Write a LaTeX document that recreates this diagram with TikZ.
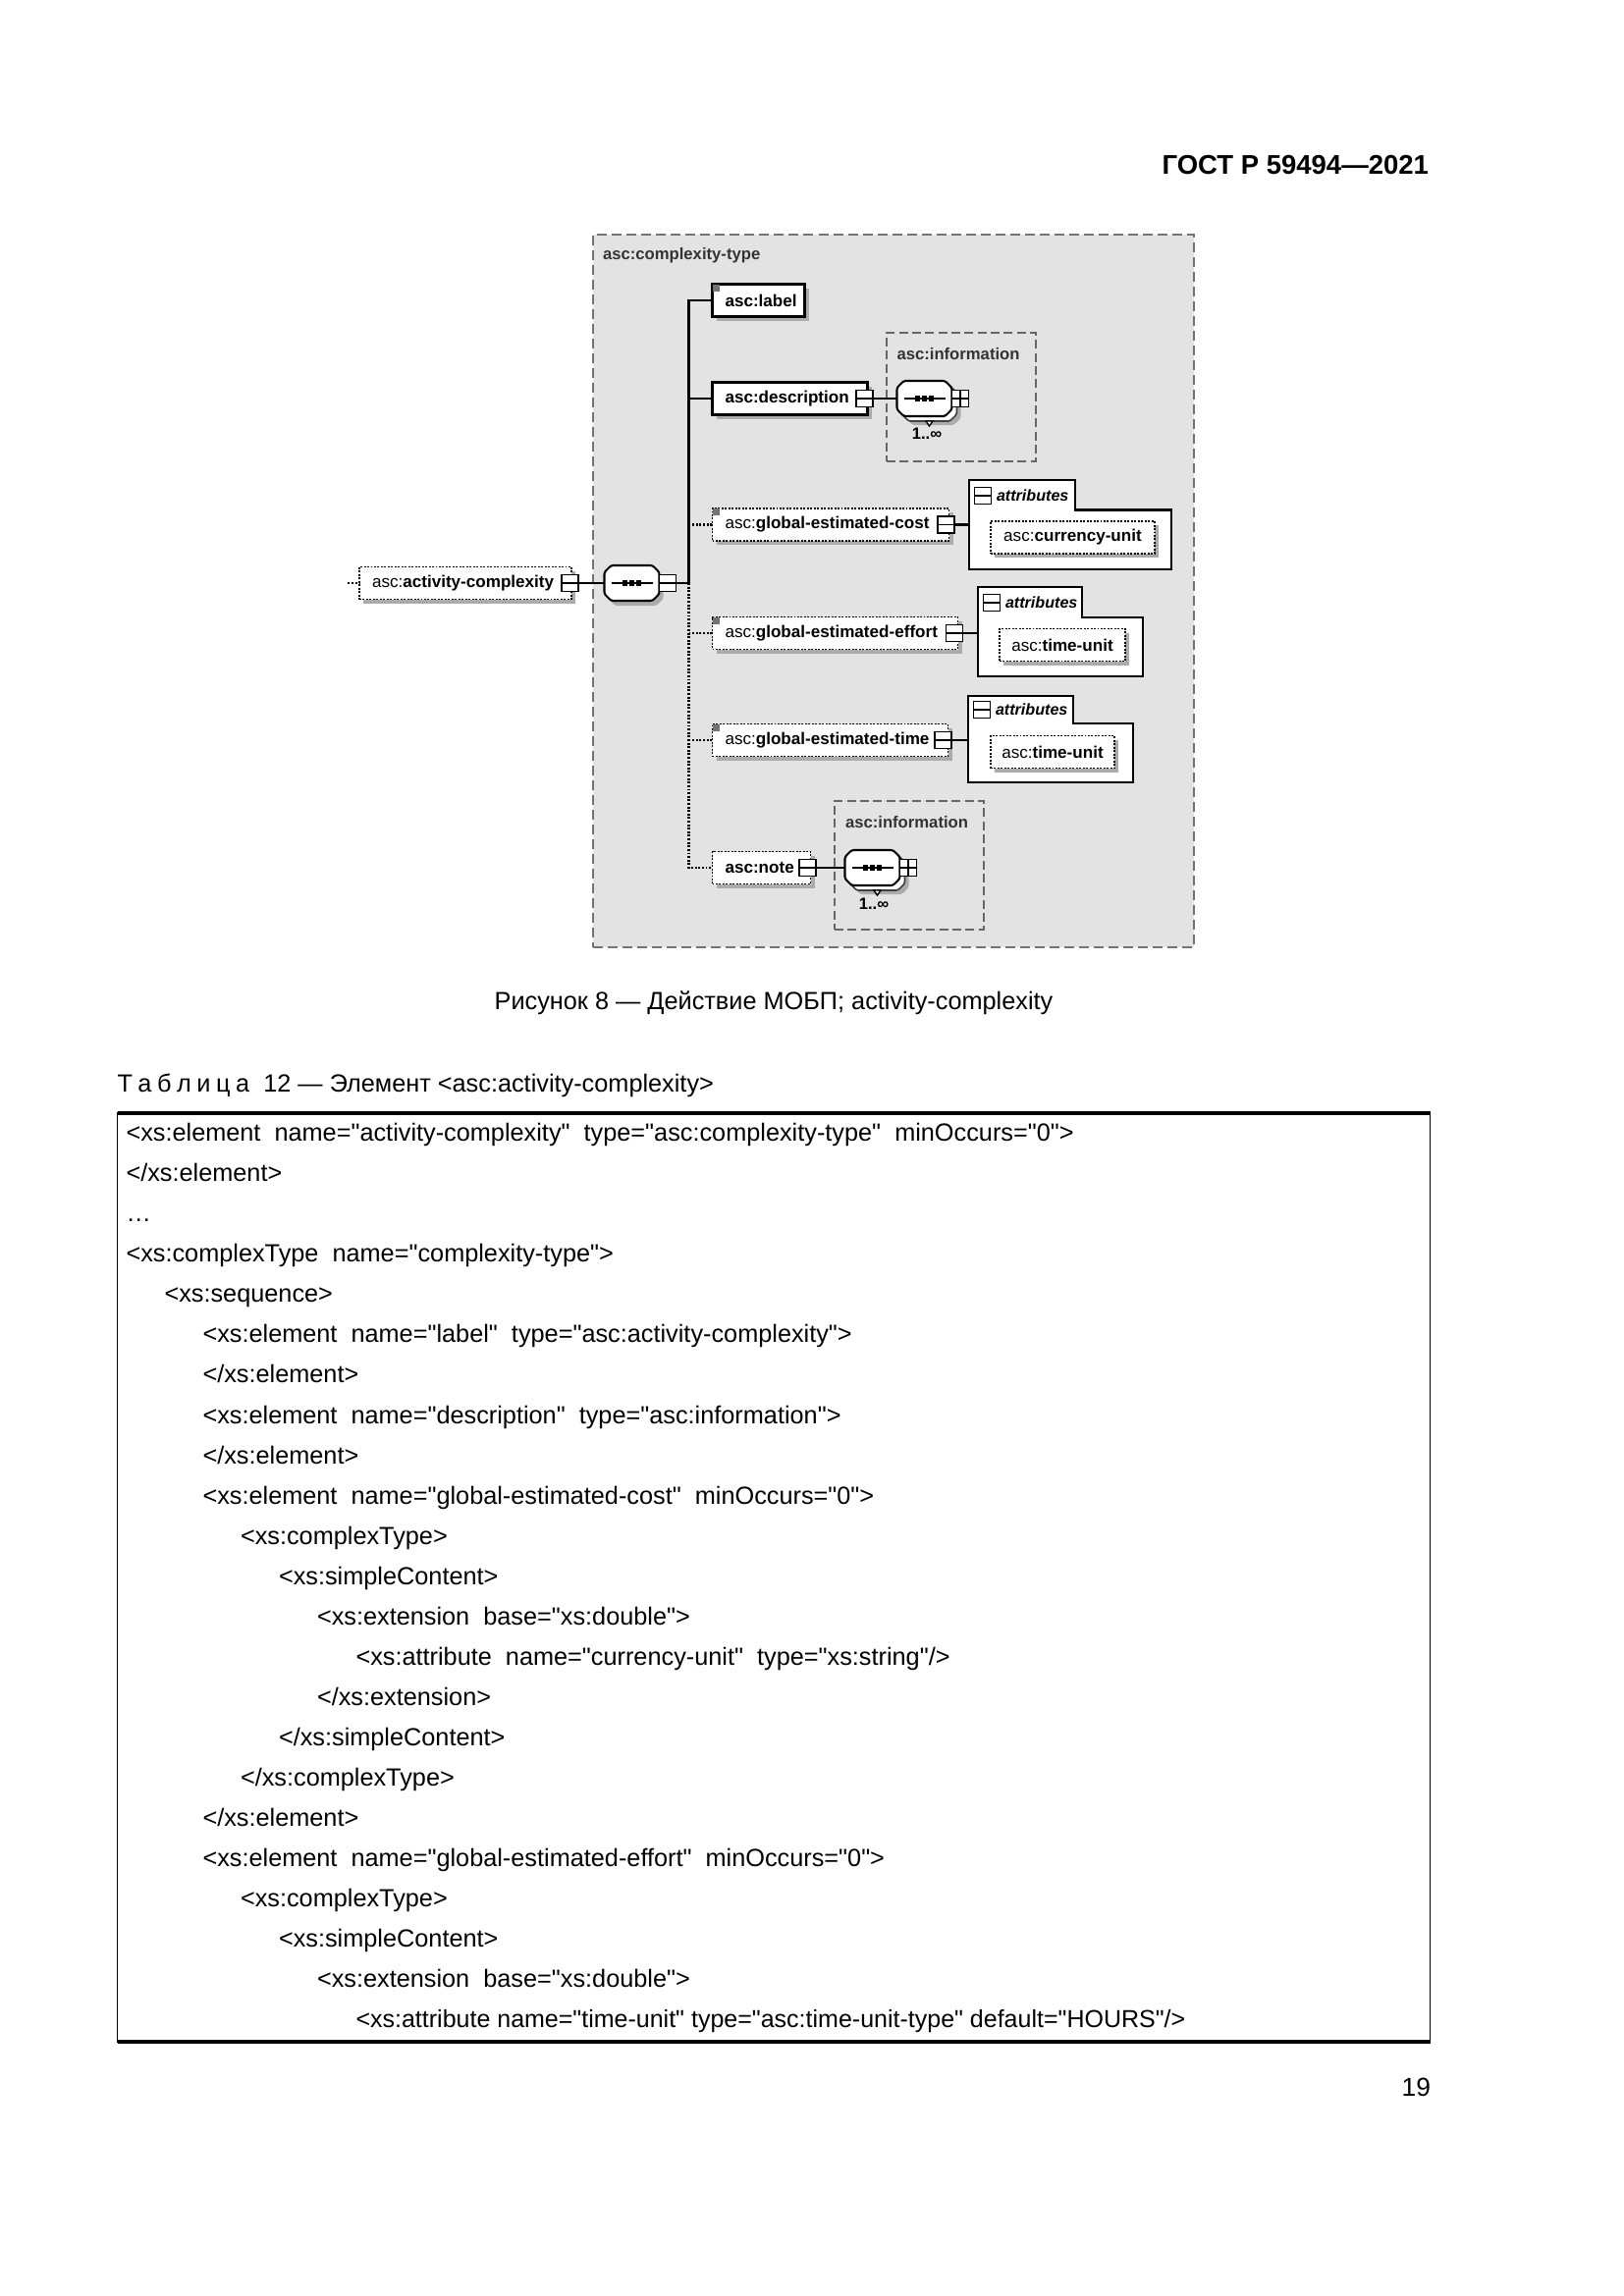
\documentclass[tikz,border=0pt]{standalone}
\usepackage{fontspec}
\setmainfont{Liberation Sans}[Ligatures=TeXOff]
\usetikzlibrary{shapes.misc,shadows}
\newlength\upx
\setlength\upx{0.3599pt}
\newcommand\seqsym[1]{%
  \draw[line width=0.6pt] ([xshift=7\upx]#1.west) -- ([xshift=-7\upx]#1.east);
  \foreach \dd in {-7,0,7}{\fill ([xshift=\dd\upx]#1.center) +(-2.6,-2.6) rectangle +(2.6,2.6);}
}
\newcommand\octo[1]{([xshift=7\upx]#1.north west) -- ([xshift=-7\upx]#1.north east) -- ([yshift=-7\upx]#1.north east) -- ([yshift=7\upx]#1.south east) -- ([xshift=-7\upx]#1.south east) -- ([xshift=7\upx]#1.south west) -- ([yshift=7\upx]#1.south west) -- ([yshift=-7\upx]#1.north west) -- cycle}
\newcommand\elmarker[1]{\fill[black!55] (#1.north west) rectangle ++(7,7);}
\begin{document}
\begin{tikzpicture}[x=0.3599pt,y=-0.3599pt,
  every node/.style={inner sep=0pt, outer sep=0pt},
  tfont/.style={font=\fontsize{9.1}{11}\selectfont},
  tline/.style={tfont, anchor=base west},
  dfont/.style={font=\fontsize{6.15}{7.2}\selectfont},
  afont/.style={font=\fontsize{5.8}{7}\selectfont\bfseries\itshape},
  shad/.style={drop shadow={shadow xshift=1.5pt, shadow yshift=-1.5pt, fill=black!33, opacity=1}},
  elembase/.style={dfont, fill=white, anchor=west, minimum height=33\upx, inner xsep=13\upx, inner ysep=0pt, align=left, shad},
  reqel/.style={elembase, draw=black, line width=0.75pt},
  optel/.style={elembase, draw=black, line width=0.6pt, dash pattern=on 0.7pt off 0.55pt},
  attrel/.style={dfont, fill=white, draw=black, line width=0.6pt, dash pattern=on 0.7pt off 0.55pt, minimum height=33\upx, shad},
  compn/.style={minimum width=56\upx, minimum height=36\upx},
  compfront/.style={fill=white, draw=black, line width=0.75pt, rounded corners=0.8pt},
  compback/.style={fill=white, draw=black!75, line width=0.6pt, rounded corners=0.8pt},
  compshadow/.style={fill=black!33, rounded corners=0.8pt},
  icon/.style={draw=black, line width=0.6pt, fill=white, minimum size=17\upx},
  minus/.style={icon, path picture={\draw[line width=0.6pt] (path picture bounding box.west) -- (path picture bounding box.east);}},
  plus/.style={icon, path picture={\draw[line width=0.6pt] (path picture bounding box.west) -- (path picture bounding box.east) (path picture bounding box.north) -- (path picture bounding box.south);}},
  ctbox/.style={draw=black!55, fill=black!11, line width=0.5pt, dash pattern=on 3.6pt off 1.8pt},
  infobox/.style={draw=black!60, line width=0.5pt, dash pattern=on 3.2pt off 1.6pt},
  ttl/.style={font=\fontsize{6}{7.2}\selectfont\bfseries, text=black!80, anchor=west},
  seqline/.style={line width=0.9pt, black},
  dotline/.style={line width=0.9pt, dash pattern=on 0.7pt off 0.6pt},
  link/.style={line width=0.6pt},
  attrline/.style={line width=0.8pt, black},
  occ/.style={font=\fontsize{6}{7.2}\selectfont\bfseries}
]
\fill[white] (0,0) rectangle (1654,2339);
\useasboundingbox (0,0) rectangle (1654,2339);

% ---------- page texts ----------
\node[font=\fontsize{9.9}{11}\selectfont\bfseries, anchor=base east] (hdr) at (1455,177) {ГОСТ Р 59494—2021};
\node[tfont, anchor=base] (cap) at (788,1028) {Рисунок 8 — Действие МОБП; activity-complexity};
\node[tline] (tabtitle) at (119.5,1112.5) {Т\kern2pt а\kern2pt б\kern2pt л\kern2pt и\kern2pt ц\kern2pt а~~12 — Элемент <asc:activity-complexity>};
\node[font=\fontsize{9.5}{11}\selectfont, anchor=base east] (pg) at (1457,2135) {19};

% ---------- table ----------
\node[draw=black, line width=0.7pt, anchor=north west, minimum width=1337\upx, minimum height=946\upx] (tbl) at (119.5,1134) {};
\draw[line width=1.3pt] (tbl.north west) -- (tbl.north east);
\draw[line width=1.3pt] (tbl.south west) -- (tbl.south east);

\node[tline] (t1) at (128.5,1162.7) {<xs:element~~name="activity-complexity"~~type="asc:complexity-type"~~minOccurs="0">};
\node[tline] (t2) at (128.5,1203.74) {</xs:element>};
\node[tline] (t3) at (128.5,1244.78) {…};
\node[tline] (t4) at (128.5,1285.82) {<xs:complexType~~name="complexity-type">};
\node[tline] (t5) at (167.5,1326.86) {<xs:sequence>};
\node[tline] (t6) at (206.5,1367.9) {<xs:element~~name="label"~~type="asc:activity-complexity">};
\node[tline] (t7) at (206.5,1408.94) {</xs:element>};
\node[tline] (t8) at (206.5,1449.98) {<xs:element~~name="description"~~type="asc:information">};
\node[tline] (t9) at (206.5,1491.02) {</xs:element>};
\node[tline] (t10) at (206.5,1532.06) {<xs:element~~name="global-estimated-cost"~~minOccurs="0">};
\node[tline] (t11) at (245,1573.1) {<xs:complexType>};
\node[tline] (t12) at (284,1614.14) {<xs:simpleContent>};
\node[tline] (t13) at (323,1655.18) {<xs:extension~~base="xs:double">};
\node[tline] (t14) at (362.5,1696.22) {<xs:attribute~~name="currency-unit"~~type="xs:string"/>};
\node[tline] (t15) at (323,1737.26) {</xs:extension>};
\node[tline] (t16) at (284,1778.3) {</xs:simpleContent>};
\node[tline] (t17) at (245,1819.34) {</xs:complexType>};
\node[tline] (t18) at (206.5,1860.38) {</xs:element>};
\node[tline] (t19) at (206.5,1901.42) {<xs:element~~name="global-estimated-effort"~~minOccurs="0">};
\node[tline] (t20) at (245,1942.46) {<xs:complexType>};
\node[tline] (t21) at (284,1983.5) {<xs:simpleContent>};
\node[tline] (t22) at (323,2024.54) {<xs:extension~~base="xs:double">};
\node[tline, font=\fontsize{9.0}{11}\selectfont] (t23) at (362.5,2065.58) {<xs:attribute name="time-unit" type="asc:time-unit-type" default="HOURS"/>};

% ---------- diagram containers ----------
\node[ctbox, anchor=north west, minimum width=612\upx, minimum height=726\upx] (ctype) at (604,239) {};
\node[ttl] (ctypet) at (614,260) {asc:complexity-type};

\node[infobox, anchor=north west, minimum width=152\upx, minimum height=131\upx] (info1) at (903,339) {};
\node[ttl] (info1t) at (913.5,361) {asc:information};
\node[infobox, anchor=north west, minimum width=152\upx, minimum height=131\upx] (info2) at (850,816) {};
\node[ttl] (info2t) at (861,838) {asc:information};

% ---------- attribute groups ----------
\node[anchor=north west, minimum width=206\upx, minimum height=60.5\upx, fill=white] (attr1body) at (987,519.5) {};
\node[anchor=north west, minimum width=108\upx, minimum height=30.5\upx, fill=white] (attr1tab) at (987,489) {};
\draw[attrline] (attr1tab.south west) |- (attr1tab.north east) |- (attr1body.north east) |- (attr1body.south west) -- cycle;
\node[minus] (a1icon) at (1001,505) {};
\node[afont, anchor=west] (a1lbl) at (1015,505) {attributes};
\node[attrel, minimum width=167\upx] (curr) at (1092.5,547.5) {asc:\textbf{currency-unit}};

\node[anchor=north west, minimum width=168\upx, minimum height=60\upx, fill=white] (attr2body) at (996,629) {};
\node[anchor=north west, minimum width=106\upx, minimum height=31\upx, fill=white] (attr2tab) at (996,598) {};
\draw[attrline] (attr2tab.south west) |- (attr2tab.north east) |- (attr2body.north east) |- (attr2body.south west) -- cycle;
\node[minus] (a2icon) at (1010,614) {};
\node[afont, anchor=west] (a2lbl) at (1024,614) {attributes};
\node[attrel, minimum width=128\upx] (tu1) at (1082,657) {asc:\textbf{time-unit}};

\node[anchor=north west, minimum width=168\upx, minimum height=60\upx, fill=white] (attr3body) at (986,737) {};
\node[anchor=north west, minimum width=107\upx, minimum height=28\upx, fill=white] (attr3tab) at (986,709) {};
\draw[attrline] (attr3tab.south west) |- (attr3tab.north east) |- (attr3body.north east) |- (attr3body.south west) -- cycle;
\node[minus] (a3icon) at (1000,723) {};
\node[afont, anchor=west] (a3lbl) at (1014,723) {attributes};
\node[attrel, minimum width=126\upx] (tu2) at (1072,766) {asc:\textbf{time-unit}};

% ---------- compositor in description (1..inf) ----------
\node[compn] (comp1bs) at (950.5,415) {};
\node[compn] (comp1b) at (946.5,411) {};
\node[compn] (comp1) at (941.5,406) {};
\fill[compshadow] \octo{comp1bs};
\filldraw[compback] \octo{comp1b};
\draw[line width=0.5pt, fill=white] ([xshift=-3.5\upx]comp1b.south) -- ([xshift=3.5\upx]comp1b.south) -- ([yshift=-5\upx]comp1b.south) -- cycle;
\filldraw[compfront] \octo{comp1};
\seqsym{comp1}
\node[plus, anchor=west] (comp1icon) at (comp1.east) {};
\node[occ] (occ1) at (944,442) {1..∞};

% ---------- compositor in note (1..inf) ----------
\node[compn] (comp2bs) at (897.5,893) {};
\node[compn] (comp2b) at (893.5,889) {};
\node[compn] (comp2) at (888.5,884) {};
\fill[compshadow] \octo{comp2bs};
\filldraw[compback] \octo{comp2b};
\draw[line width=0.5pt, fill=white] ([xshift=-3.5\upx]comp2b.south) -- ([xshift=3.5\upx]comp2b.south) -- ([yshift=-5\upx]comp2b.south) -- cycle;
\filldraw[compfront] \octo{comp2};
\seqsym{comp2}
\node[plus, anchor=west] (comp2icon) at (comp2.east) {};
\node[occ] (occ2) at (890,921) {1..∞};

% ---------- main compositor ----------
\node[compn] (maincomps) at (647.5,599) {};
\node[compn] (maincomp) at (643.5,594) {};
\fill[compshadow] \octo{maincomps};
\filldraw[compfront] \octo{maincomp};
\seqsym{maincomp}
\node[minus, anchor=west] (mainicon) at (maincomp.east) {};

% ---------- elements ----------
\node[optel, text width=190\upx] (ac) at (366,594) {\mbox{asc:\textbf{activity-complexity}}};
\node[minus] (acicon) at ([xshift=-1.5\upx]ac.east) {};

\node[reqel, text width=68\upx] (label) at (725.5,306) {\mbox{\textbf{asc:label}}};
\elmarker{label}

\node[reqel, text width=132\upx] (desc) at (725.5,406) {\mbox{\textbf{asc:description}}};
\node[minus] (descicon) at ([xshift=-3\upx]desc.east) {};

\node[optel, text width=215\upx] (cost) at (725.5,534.5) {\mbox{asc:\textbf{global-estimated-cost}}};
\elmarker{cost}
\node[minus] (costicon) at ([xshift=-3\upx]cost.east) {};

\node[optel, text width=224\upx] (effort) at (725.5,645) {\mbox{asc:\textbf{global-estimated-effort}}};
\elmarker{effort}
\node[minus] (efforticon) at ([xshift=-3.5\upx]effort.east) {};

\node[optel, text width=214\upx] (time) at (725.5,754) {\mbox{asc:\textbf{global-estimated-time}}};
\elmarker{time}
\node[minus] (timeicon) at ([xshift=-5\upx]time.east) {};

\node[optel, text width=74\upx] (note) at (725.5,884) {\mbox{\textbf{asc:note}}};
\node[minus] (noteicon) at ([xshift=-3\upx]note.east) {};

% ---------- connectors ----------
\coordinate (jn) at (701.5,594);
\coordinate (acin) at (354,594);
\draw[line width=0.6pt, dash pattern=on 0.7pt off 0.7pt] (acin) -- (ac.west);
\draw[link] (acicon.east) -- (maincomp.west);
\draw[seqline] (mainicon.east) -- (jn);
\draw[seqline] (label.west) -- (label.west -| jn) -- (jn);
\draw[seqline] (desc.west) -- (desc.west -| jn);
\draw[dotline] (jn) |- (note.west);
\draw[dotline] (cost.west -| jn) -- (cost.west);
\draw[dotline] (effort.west -| jn) -- (effort.west);
\draw[dotline] (time.west -| jn) -- (time.west);
\draw[link] (descicon.east) -- (comp1.west);
\draw[link] (noteicon.east) -- (comp2.west);
\draw[line width=1pt] (costicon.east) -- (costicon.east -| attr1body.west);
\draw[link] (efforticon.east) -- (efforticon.east -| attr2body.west);
\draw[line width=0.7pt] (timeicon.east) -- (timeicon.east -| attr3body.west);
\end{tikzpicture}
\end{document}
